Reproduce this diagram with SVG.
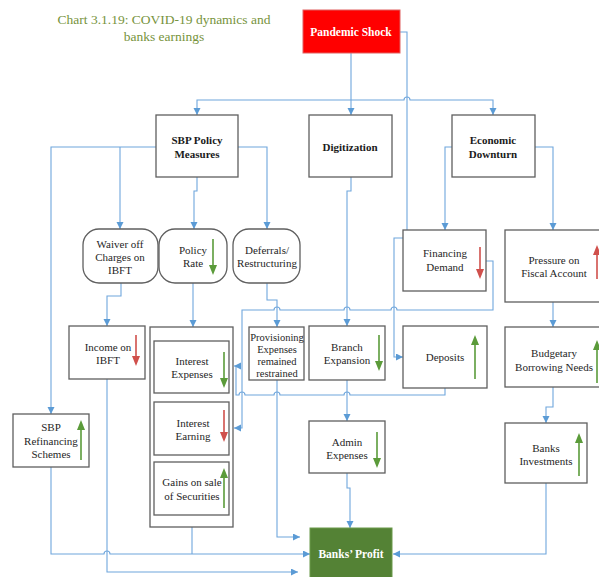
<svg xmlns="http://www.w3.org/2000/svg" width="599" height="577" viewBox="0 0 599 577">
<style>
.box{fill:#ffffff;stroke:#5f5f5f;stroke-width:1.3}
.t{font-family:"Liberation Serif","Times New Roman",serif;font-size:11px;fill:#262626;text-anchor:middle}
.tb{font-family:"Liberation Serif","Times New Roman",serif;font-size:11px;font-weight:bold;fill:#1a1a1a;text-anchor:middle}
.tw{font-family:"Liberation Serif","Times New Roman",serif;font-size:11.5px;font-weight:bold;fill:#ffffff;text-anchor:middle}
.ts{font-family:"Liberation Serif","Times New Roman",serif;font-size:10.5px;fill:#262626;text-anchor:middle}
.title{font-family:"Liberation Serif","Times New Roman",serif;font-size:13.5px;fill:#77933c;text-anchor:middle}
.c{fill:none;stroke:#6fa6dc;stroke-width:1.1}
.ca{fill:none;stroke:#6fa6dc;stroke-width:1.1;marker-end:url(#ah)}
.g{stroke:#5b9b3a;stroke-width:1.6;fill:none}
.gh{fill:#5b9b3a}
.r{stroke:#d0504c;stroke-width:1.6;fill:none}
.rh{fill:#d0504c}
</style>
<defs>
<marker id="ah" markerUnits="userSpaceOnUse" markerWidth="8" markerHeight="8" refX="7" refY="3.5" orient="auto">
<path d="M0,0 L7,3.5 L0,7 z" fill="#5b9bd5"/>
</marker>
</defs>

<text class="title" x="164" y="24">Chart 3.1.19: COVID-19 dynamics and</text>
<text class="title" x="164" y="41">banks earnings</text>

<g id="connectors">
<path class="ca" d="M351,53 V115"/>
<path class="ca" d="M351,100 H197 V115"/>
<path class="ca" d="M351,100 H404 a3,3 0 0 1 6,0 H493 V115"/>
<path class="ca" d="M400,32 H407 V238 H394 V357 H403"/>
<path class="ca" d="M452,147 H445 V230"/>
<path class="ca" d="M535,147 H553 V230"/>
<path class="ca" d="M156,147 H51 V414"/>
<path class="ca" d="M120,147 V229"/>
<path class="ca" d="M197,177 V191 H194 V229"/>
<path class="ca" d="M238,147 H267 V229"/>
<path class="ca" d="M351,177 V191 H347 V326"/>
<path class="ca" d="M121,283 V296 H107 V326"/>
<path class="ca" d="M193,283 V327"/>
<path class="ca" d="M267,283 V300 H277 V327"/>
<path class="ca" d="M486,261 H493 V310 H397 a3,3 0 0 0 -6,0 H350 a3,3 0 0 0 -6,0 H280 a3,3 0 0 0 -6,0 H242 V428 H234"/>
<path class="ca" d="M445,388 V395 H350 a3,3 0 0 0 -6,0 H280 a3,3 0 0 0 -6,0 H245 a3,3 0 0 0 -6,0 H236 V366 H234"/>
<path class="ca" d="M347,380 V421"/>
<path class="ca" d="M347,473 V488 H350 V528"/>
<path class="ca" d="M277,380 V537 H300"/>
<path class="ca" d="M107,379 V572 H298"/>
<path class="ca" d="M51,467 V554 H104 a3,3 0 0 1 6,0 H310"/>
<path class="c" d="M192,527 V554"/>
<path class="ca" d="M553,302 V327"/>
<path class="ca" d="M553,387 V407 H546 V423"/>
<path class="ca" d="M546,483 V554 H393"/>
</g>

<g id="pandemic-shock">
<rect x="303" y="10" width="97" height="43" fill="#ff0000" stroke="#e06060" stroke-width="1"/>
<text class="tw" x="351" y="36">Pandemic Shock</text>
</g>

<g id="sbp-policy">
<rect class="box" x="156" y="115" width="82" height="62"/>
<text class="tb" x="197" y="144">SBP Policy</text>
<text class="tb" x="197" y="158">Measures</text>
</g>

<g id="digitization">
<rect class="box" x="309" y="115" width="83" height="62"/>
<text class="tb" x="350" y="151">Digitization</text>
</g>

<g id="economic-downturn">
<rect class="box" x="452" y="115" width="83" height="62"/>
<text class="tb" x="493" y="144">Economic</text>
<text class="tb" x="493" y="158">Downturn</text>
</g>

<g id="waiver">
<rect class="box" x="83" y="229" width="75" height="54" rx="16"/>
<text class="t" x="120" y="248">Waiver off</text>
<text class="t" x="120" y="261">Charges on</text>
<text class="t" x="120" y="274">IBFT</text>
</g>

<g id="policy-rate">
<rect class="box" x="159" y="229" width="68" height="54" rx="16"/>
<text class="t" x="193" y="254">Policy</text>
<text class="t" x="193" y="267">Rate</text>
<path class="g" d="M213,239 V266"/>
<polygon class="gh" points="209,265 217,265 213,275"/>
</g>

<g id="deferrals">
<rect class="box" x="233" y="229" width="67" height="54" rx="16"/>
<text class="t" x="267" y="254">Deferrals/</text>
<text class="t" x="267" y="267">Restructuring</text>
</g>

<g id="income-ibft">
<rect class="box" x="69" y="326" width="76" height="53"/>
<text class="t" x="108" y="351">Income on</text>
<text class="t" x="108" y="364">IBFT</text>
<path class="r" d="M136,335 V357"/>
<polygon class="rh" points="132,356 140,356 136,366"/>
</g>

<g id="container">
<rect class="box" x="150" y="327" width="83" height="200"/>
</g>

<g id="interest-expenses">
<rect class="box" x="154" y="341" width="75" height="52"/>
<text class="t" x="192" y="365">Interest</text>
<text class="t" x="192" y="378">Expenses</text>
<path class="g" d="M224,352 V379"/>
<polygon class="gh" points="220,378 228,378 224,388"/>
</g>

<g id="interest-earning">
<rect class="box" x="154" y="402" width="75" height="53"/>
<text class="t" x="193" y="427">Interest</text>
<text class="t" x="193" y="440">Earning</text>
<path class="r" d="M224,410 V433"/>
<polygon class="rh" points="220,432 228,432 224,442"/>
</g>

<g id="gains-securities">
<rect class="box" x="154" y="462" width="75" height="53"/>
<text class="t" x="192" y="486">Gains on sale</text>
<text class="t" x="192" y="500">of Securities</text>
<path class="g" d="M224,477 V508"/>
<polygon class="gh" points="220,478 228,478 224,468"/>
</g>

<g id="sbp-refinancing">
<rect class="box" x="13" y="414" width="76" height="53"/>
<text class="t" x="51" y="431">SBP</text>
<text class="t" x="51" y="445">Refinancing</text>
<text class="t" x="51" y="458">Schemes</text>
<path class="g" d="M81,429 V460"/>
<polygon class="gh" points="77,430 85,430 81,420"/>
</g>

<g id="provisioning">
<rect class="box" x="249" y="327" width="55" height="53"/>
<text class="ts" x="277" y="341">Provisioning</text>
<text class="ts" x="277" y="353">Expenses</text>
<text class="ts" x="277" y="365">remained</text>
<text class="ts" x="277" y="377">restrained</text>
</g>

<g id="branch-expansion">
<rect class="box" x="309" y="326" width="76" height="54"/>
<text class="t" x="347" y="351">Branch</text>
<text class="t" x="347" y="364">Expansion</text>
<path class="g" d="M379,335 V362"/>
<polygon class="gh" points="375,361 383,361 379,371"/>
</g>

<g id="deposits">
<rect class="box" x="403" y="326" width="84" height="62"/>
<text class="t" x="445" y="361">Deposits</text>
<path class="g" d="M475,344 V379"/>
<polygon class="gh" points="471,345 479,345 475,335"/>
</g>

<g id="financing-demand">
<rect class="box" x="403" y="230" width="83" height="61"/>
<text class="t" x="445" y="257">Financing</text>
<text class="t" x="445" y="271">Demand</text>
<path class="r" d="M480,247 V270"/>
<polygon class="rh" points="476,269 484,269 480,279"/>
</g>

<g id="pressure-fiscal">
<rect class="box" x="505" y="230" width="96" height="72"/>
<text class="t" x="554" y="264">Pressure on</text>
<text class="t" x="554" y="277">Fiscal Account</text>
<path class="r" d="M597,254 V279"/>
<polygon class="rh" points="593,255 601,255 597,245"/>
</g>

<g id="budgetary-borrowing">
<rect class="box" x="505" y="327" width="96" height="60"/>
<text class="t" x="554" y="357">Budgetary</text>
<text class="t" x="554" y="371">Borrowing Needs</text>
<path class="g" d="M597,349 V383"/>
<polygon class="gh" points="593,350 601,350 597,340"/>
</g>

<g id="admin-expenses">
<rect class="box" x="309" y="421" width="76" height="52"/>
<text class="t" x="347" y="446">Admin</text>
<text class="t" x="347" y="459">Expenses</text>
<path class="g" d="M377,432 V459"/>
<polygon class="gh" points="373,458 381,458 377,468"/>
</g>

<g id="banks-investments">
<rect class="box" x="505" y="423" width="82" height="60"/>
<text class="t" x="546" y="452">Banks</text>
<text class="t" x="546" y="465">Investments</text>
<path class="g" d="M579,442 V476"/>
<polygon class="gh" points="575,443 583,443 579,433"/>
</g>

<g id="banks-profit">
<rect x="310" y="528" width="82" height="52" fill="#548235" stroke="#6a9a4a" stroke-width="1"/>
<text class="tw" x="351" y="558">Banks’ Profit</text>
</g>
</svg>
